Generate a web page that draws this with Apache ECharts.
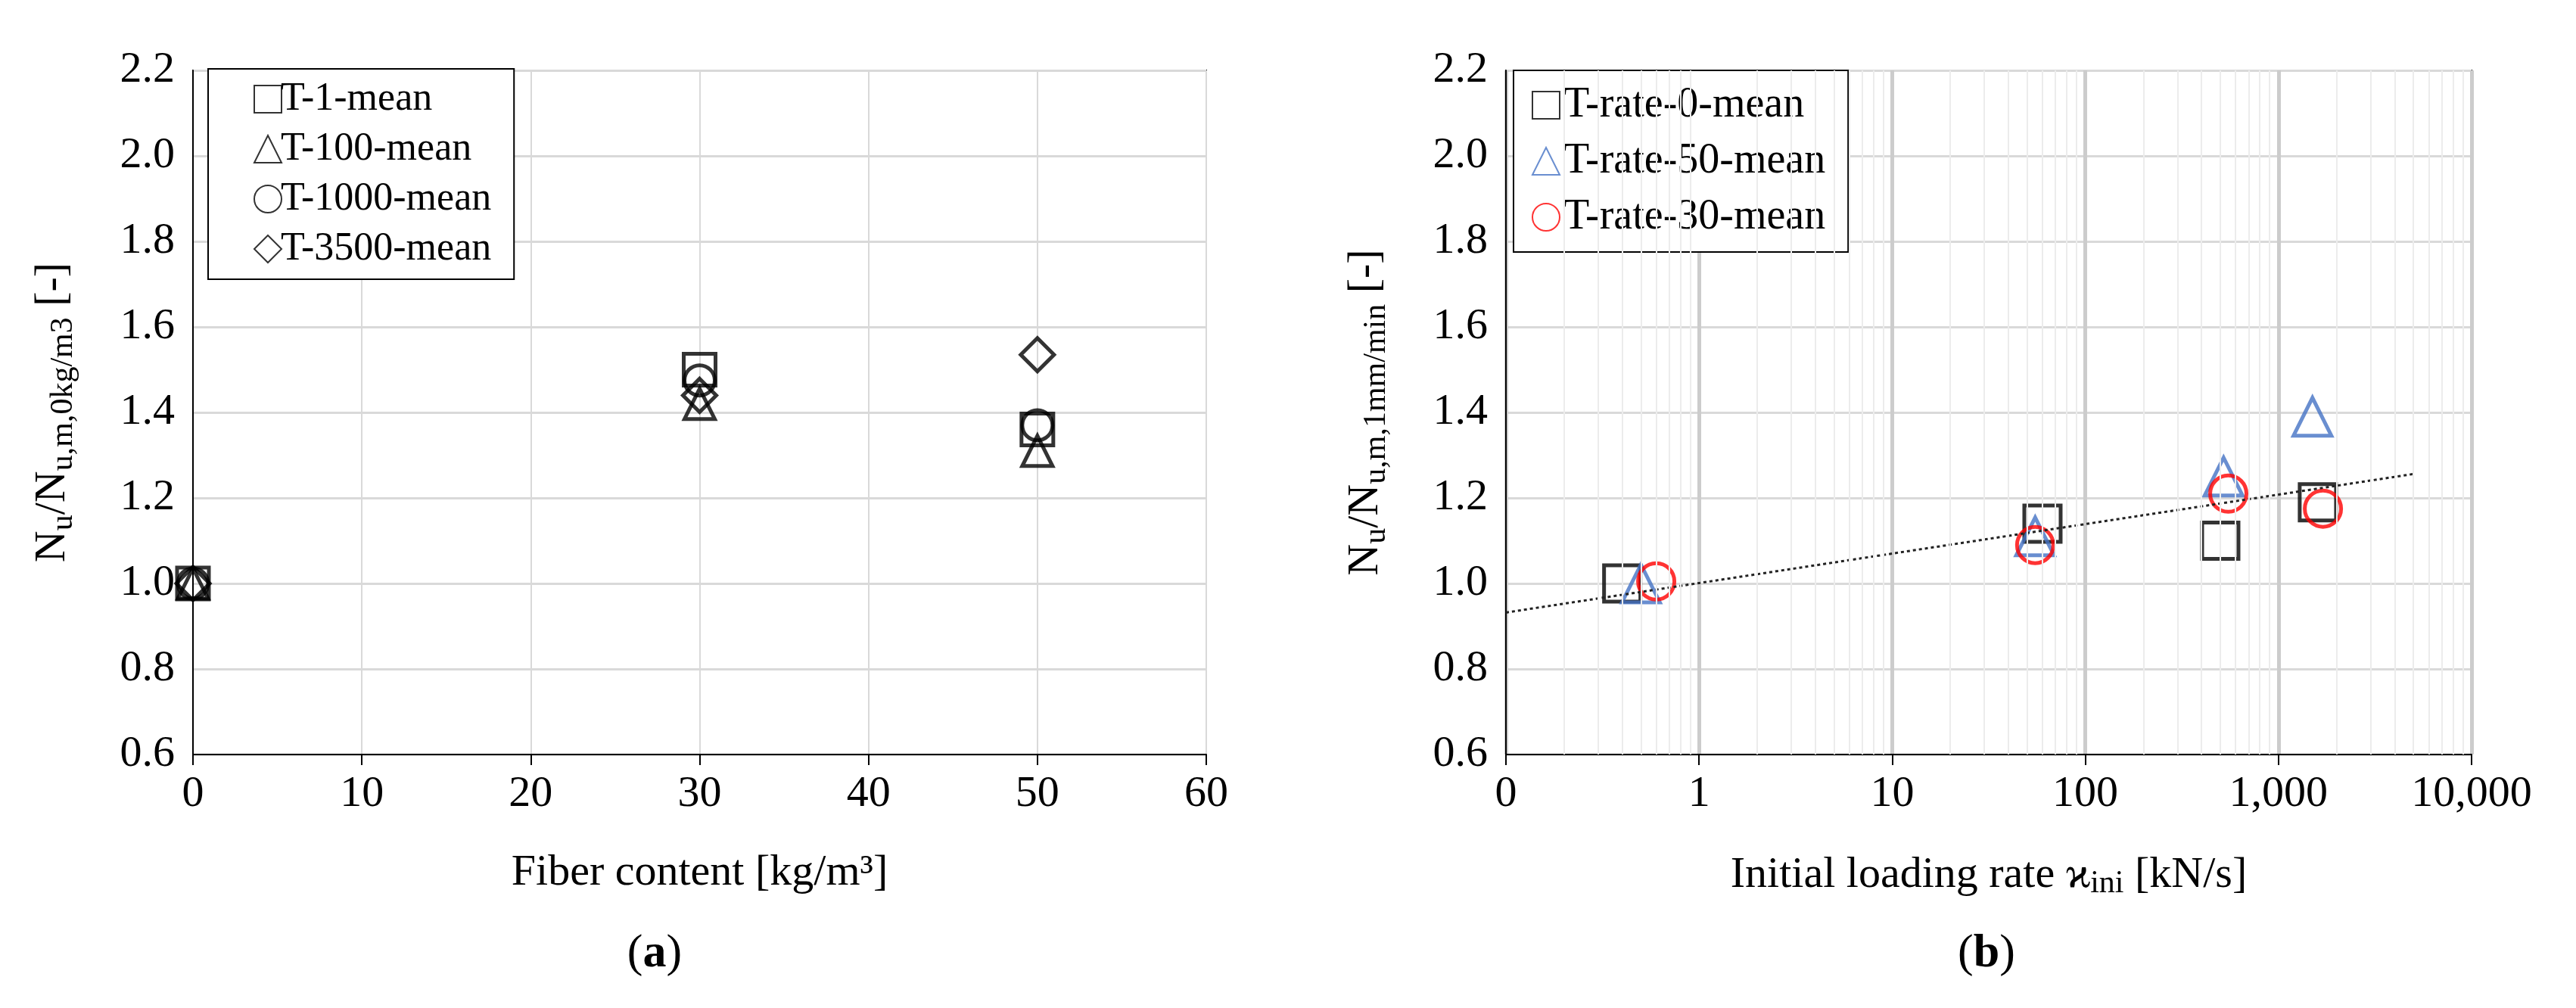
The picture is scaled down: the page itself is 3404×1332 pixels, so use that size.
<!DOCTYPE html>
<html>
<head>
<meta charset="utf-8">
<script src="https://cdn.jsdelivr.net/npm/echarts@6/dist/echarts.min.js"></script>
<style>html,body{margin:0;background:#fff}#c{width:3404px;height:1332px}</style>
</head>
<body>
<div id="c"></div>
<script>
// (a) fiber content
const fiberX = [0, 30, 50];
const t1 = [1.0, 1.50, 1.36];
const t100 = [1.0, 1.42, 1.31];
const t1000 = [1.0, 1.475, 1.37];
const t3500 = [1.0, 1.44, 1.535];

// (b) loading rate
const rate0 = [[0.4, 1.0], [60, 1.14], [500, 1.10], [1600, 1.19]];
const rate50 = [[0.5, 1.0], [55, 1.11], [520, 1.25], [1500, 1.39]];
const rate30 = [[0.6, 1.005], [55, 1.09], [550, 1.21], [1700, 1.175]];
const trend = [[0.1, 0.932], [5000, 1.256]];
const minorGrid = [0.2,0.3,0.4,0.5,0.6,0.7,0.8,0.9,2,3,4,5,6,7,8,9,20,30,40,50,60,70,80,90,
  200,300,400,500,600,700,800,900,2000,3000,4000,5000,6000,7000,8000,9000];

const font = 'Liberation Serif';
const black = '#000';
const c = echarts.init(document.getElementById('c'));

const yAxisBase = (gridIndex, sub) => ({
  gridIndex, type: 'value', min: 0.6, max: 2.2, interval: 0.2,
  axisLine: {show: true, lineStyle: {color: black, width: 2}},
  axisTick: {show: false},
  axisLabel: {fontFamily: font, fontSize: 58, color: black, margin: 24, formatter: v => v.toFixed(1)},
  splitLine: {lineStyle: {color: '#d9d9d9', width: 3}},
  name: '{n|N}{s|u}{n|/N}{s|' + sub + '}{n| [-]}',
  nameLocation: 'middle', nameGap: 150,
  nameTextStyle: {rich: {
    n: {fontFamily: font, fontSize: 58, color: black},
    s: {fontFamily: font, fontSize: 42, color: black, padding: [28, 0, 0, 0]}
  }}
});

const hollow = (name, symbol, data, color, size, xi) => ({
  name, type: 'scatter', symbol, symbolSize: size, data,
  xAxisIndex: xi, yAxisIndex: xi,
  itemStyle: {color: 'rgba(0,0,0,0)', borderColor: color, borderWidth: 5}
});

const titleStyle = {fontFamily: font, fontSize: 62, fontWeight: 'normal', color: black,
  rich: {b: {fontFamily: font, fontSize: 62, fontWeight: 'bold', color: black}}};

c.setOption({
  animation: false,
  grid: [
    {left: 255, right: 1810, top: 93, bottom: 335, show: true, borderColor: black, borderWidth: 2},
    {left: 1990, right: 138, top: 93, bottom: 335, show: true, borderColor: black, borderWidth: 2}
  ],
  title: [
    {text: '({b|a})', left: 860, top: 1225, textAlign: 'center', textStyle: titleStyle},
    {text: '({b|b})', left: 2620, top: 1225, textAlign: 'center', textStyle: titleStyle}
  ],
  legend: [
    {data: ['T-1-mean', 'T-100-mean', 'T-1000-mean', 'T-3500-mean'], orient: 'vertical',
     left: 275, top: 91, padding: [14, 30, 14, 60], itemGap: 14, itemWidth: 36, itemHeight: 36,
     borderColor: black, borderWidth: 2, backgroundColor: '#fff',
     textStyle: {fontFamily: font, fontSize: 52, color: black, padding: [0, 0, 0, -6]}},
    {data: ['T-rate-0-mean', 'T-rate-50-mean', 'T-rate-30-mean'], orient: 'vertical',
     left: 2000, top: 93, padding: [18, 30, 18, 24], itemGap: 18, itemWidth: 36, itemHeight: 36,
     borderColor: black, borderWidth: 2, backgroundColor: '#fff',
     textStyle: {fontFamily: font, fontSize: 56, color: black}}
  ],
  xAxis: [
    {gridIndex: 0, type: 'value', min: 0, max: 60, interval: 10,
     axisLine: {lineStyle: {color: black, width: 2}},
     axisTick: {show: true, inside: false, length: 14, lineStyle: {color: black, width: 2}},
     axisLabel: {fontFamily: font, fontSize: 58, color: black, margin: 24},
     splitLine: {show: true, lineStyle: {color: '#d9d9d9', width: 2}},
     name: 'Fiber content [kg/m³]', nameLocation: 'middle', nameGap: 128,
     nameTextStyle: {fontFamily: font, fontSize: 58, color: black}},
    {gridIndex: 1, type: 'log', logBase: 10, min: 0.1, max: 10000,
     axisLine: {lineStyle: {color: black, width: 2}},
     axisTick: {show: true, length: 14, lineStyle: {color: black, width: 2}},
     axisLabel: {fontFamily: font, fontSize: 58, color: black, margin: 24,
       formatter: v => v < 0.5 ? '0' : Math.round(v).toLocaleString('en-US')},
     splitLine: {show: true, lineStyle: {color: '#cccccc', width: 5}},
     name: '{n|Initial loading rate ϰ}{s|ini}{n| [kN/s]}', nameLocation: 'middle', nameGap: 128,
     nameTextStyle: {rich: {
       n: {fontFamily: font, fontSize: 58, color: black},
       s: {fontFamily: font, fontSize: 42, color: black, padding: [22, 0, 0, 0]}
     }}}
  ],
  yAxis: [yAxisBase(0, 'u,m,0kg/m3'), yAxisBase(1, 'u,m,1mm/min')],
  series: [
    hollow('T-1-mean', 'rect', fiberX.map((x, i) => [x, t1[i]]), black, 42, 0),
    hollow('T-100-mean', 'triangle', fiberX.map((x, i) => [x, t100[i]]), black, 40, 0),
    hollow('T-1000-mean', 'circle', fiberX.map((x, i) => [x, t1000[i]]), black, 40, 0),
    hollow('T-3500-mean', 'diamond', fiberX.map((x, i) => [x, t3500[i]]), black, 44, 0),
    {type: 'line', xAxisIndex: 1, yAxisIndex: 1, data: trend, symbol: 'none', silent: true,
     lineStyle: {color: '#222', width: 3, type: [4, 4]},
     markLine: {silent: true, symbol: 'none', label: {show: false},
       lineStyle: {color: '#ececec', width: 2, type: 'solid'},
       data: minorGrid.map(v => ({xAxis: v}))}},
    hollow('T-rate-0-mean', 'rect', rate0, black, 48, 1),
    hollow('T-rate-50-mean', 'triangle', rate50, '#4472C4', 50, 1),
    hollow('T-rate-30-mean', 'circle', rate30, '#FF0000', 48, 1)
  ]
});
</script>
</body>
</html>
